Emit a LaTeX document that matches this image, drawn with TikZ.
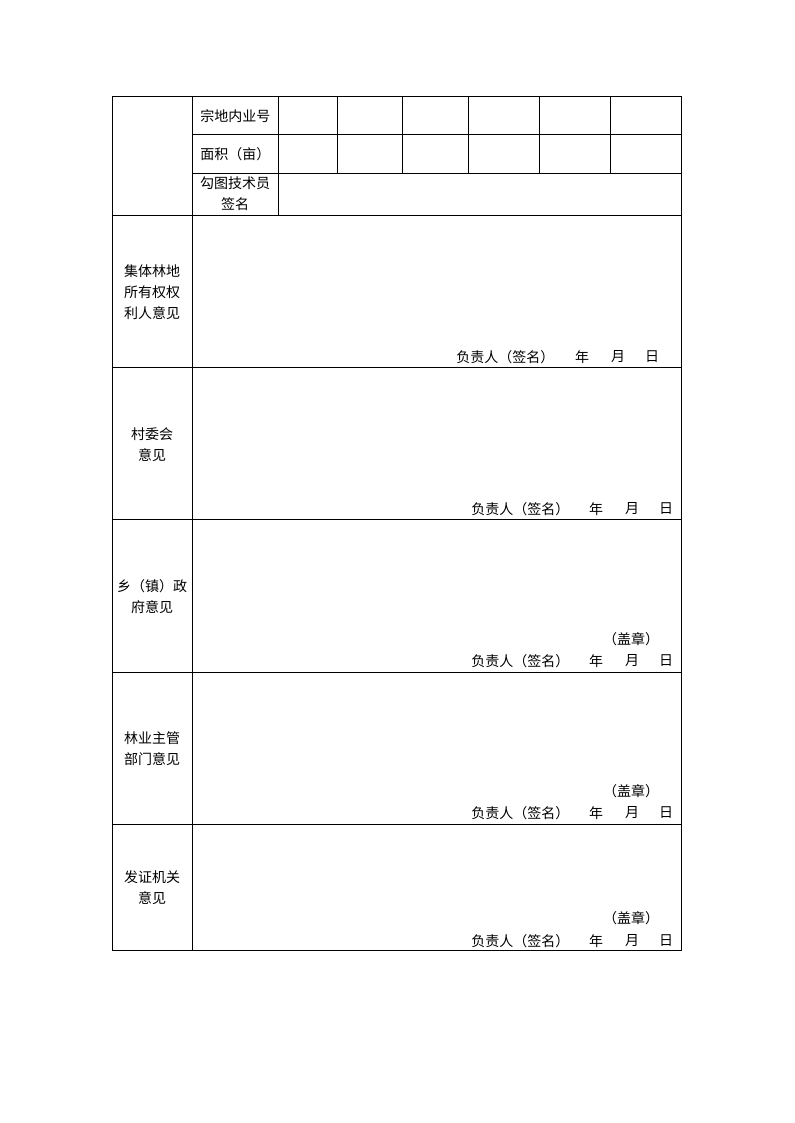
\documentclass[tikz,border=0pt]{standalone}
\usepackage{fontspec}
\setmainfont{Noto Sans CJK SC}
\usetikzlibrary{positioning}

\begin{document}
\begin{tikzpicture}[x=0.75pt, y=-0.75pt, line width=0.6pt,
  cell/.style={font=\fontsize{10.5}{15.75}\selectfont, inner sep=0pt, align=center}]
  \useasboundingbox (0,0) rectangle (794,1123);
  % frame and rules of the form
  \draw (112,96) rectangle (681,950);
  \draw (192,96) -- (192,950);
  \draw (278,96) -- (278,215);
  \foreach \y in {134,173} \draw (192,\y) -- (681,\y);
  \foreach \y in {215,367,519,672,824} \draw (112,\y) -- (681,\y);
  \foreach \x in {337,402,468,539,610} \draw (\x,96) -- (\x,173);
  % header cells
  \node[cell, anchor=west] (parcelno) at (200,116) {宗地内业号};
  \node[cell, anchor=west] (area) at (200,154) {面积（亩）};
  \node[cell] (drafter) at (235,194) {勾图技术员\\签名};
  % section titles
  \node[cell] (owner) at (152,292) {集体林地\\所有权权\\利人意见};
  \node[cell] (village) at (152,445) {村委会\\意见};
  \node[cell] (town) at (152,597) {乡（镇）政\\府意见};
  \node[cell] (forestry) at (152,749) {林业主管\\部门意见};
  \node[cell] (issuer) at (152,888) {发证机关\\意见};
  % signature lines
  \node[cell, anchor=west] (signa) at (456,357) {负责人（签名）};
  \node[cell] (yeara) at (582,357) {年};
  \node[cell] (montha) at (618,357) {月};
  \node[cell] (daya) at (652,357) {日};
  \foreach \y/\n in {509/b, 661/c, 813/d, 941/e} {
    \node[cell, anchor=west] (sign\n) at (471,\y) {负责人（签名）};
    \node[cell] (year\n) at (596,\y) {年};
    \node[cell] (month\n) at (632,\y) {月};
    \node[cell] (day\n) at (666,\y) {日};
  }
  \foreach \y/\n in {639/c, 791/d, 918/e}
    \node[cell] (seal\n) at (631,\y) {（盖章）};
\end{tikzpicture}
\end{document}
